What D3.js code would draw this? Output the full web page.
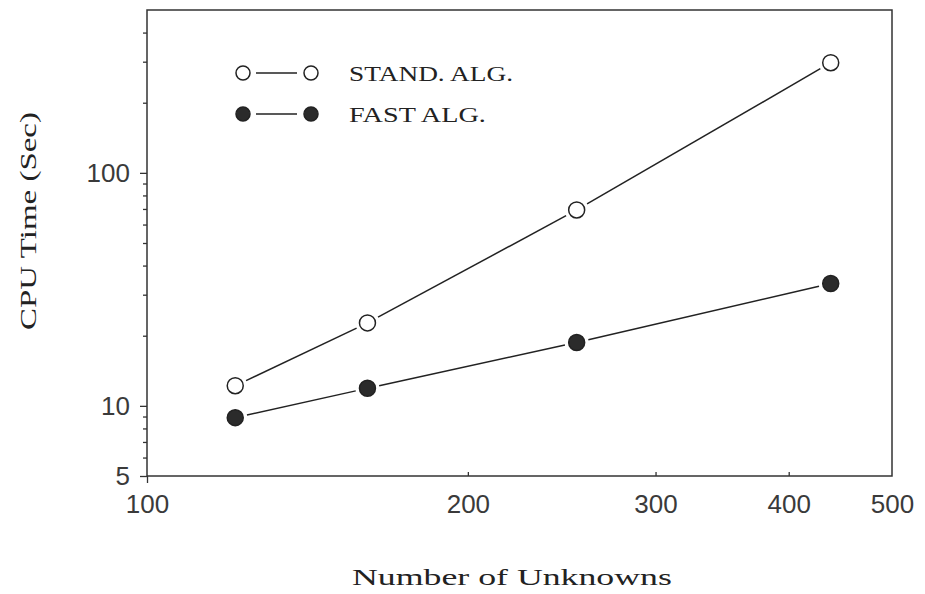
<!DOCTYPE html>
<html>
<head>
<meta charset="utf-8">
<script src="https://cdn.jsdelivr.net/npm/d3@7"></script>
<style>
  body { margin: 0; background: #fff; }
  svg { display: block; }
</style>
</head>
<body>
<div id="viz"></div>
<script>
// data
let unknowns = [121, 161, 253, 438];
let stand_alg = [12.2, 22.7, 69.3, 297];
let fast_alg = [8.9, 11.9, 18.7, 33.5];
let x_ticks = [100, 200, 300, 400, 500];
let y_labels = [5, 10, 100];
let y_minor = [6, 7, 8, 9, 20, 30, 40, 50, 60, 70, 80, 90, 200, 300, 400];
let series_names = ['STAND. ALG.', 'FAST ALG.'];

const width = 925, height = 594;
const serif = "'Liberation Serif', 'DejaVu Serif', serif";
const sans = "'Liberation Sans', 'DejaVu Sans', sans-serif";
const ink = '#222';

const svg = d3.select('#viz').append('svg')
    .attr('width', width)
    .attr('height', height);

const x = d3.scaleLog().domain([100, 500]).range([147, 892]);
const y = d3.scaleLog().domain([5, 500]).range([476, 10]);

// frame
svg.append('rect')
    .attr('x', x(100)).attr('y', y(500))
    .attr('width', x(500) - x(100)).attr('height', y(5) - y(500))
    .attr('fill', 'none').attr('stroke', '#333').attr('stroke-width', 1.5);

// y axis
svg.append('g')
    .attr('transform', 'translate(' + x(100) + ',0)')
    .call(d3.axisLeft(y).tickValues(y_labels).tickFormat(d3.format('d')).tickSize(7).tickPadding(10));
svg.append('g')
    .attr('transform', 'translate(' + x(100) + ',0)')
    .call(d3.axisLeft(y).tickValues(y_minor).tickFormat('').tickSize(4));

// x axis
svg.append('g')
    .attr('transform', 'translate(0,' + y(5) + ')')
    .call(d3.axisBottom(x).tickValues(x_ticks).tickSize(0).tickPadding(19).tickFormat(d3.format('d')));
svg.append('g')
    .attr('transform', 'translate(0,' + y(5) + ')')
    .call(d3.axisBottom(x).tickValues([100]).tickFormat('').tickSize(7));
svg.append('g')
    .attr('transform', 'translate(0,' + y(5) + ')')
    .call(d3.axisTop(x).tickValues([200, 300, 400]).tickFormat('').tickSize(4));

svg.selectAll('.domain').remove();
svg.selectAll('.tick line').attr('stroke', '#333').attr('stroke-width', 1.3);
svg.selectAll('.tick text')
    .attr('fill', '#3a3a3a')
    .style('font-family', sans)
    .style('font-size', '26px');

// serif text stretched sideways to the width it has in the picture
function wide_text(str, x0, y0, target, size, rotate) {
    let t = svg.append('text')
        .attr('x', 0).attr('y', 0)
        .style('font-family', serif).style('font-size', size + 'px')
        .attr('fill', ink)
        .text(str);
    let w = t.node().getComputedTextLength();
    let k = target / w;
    t.attr('transform', 'translate(' + x0 + ',' + y0 + ')' + (rotate ? ' rotate(-90)' : '') + ' scale(' + k + ',1)');
    return t;
}

// axis titles
wide_text('Number of Unknowns', 352, 585, 320, 24, false);
wide_text('CPU Time (Sec)', 36, 330, 218, 24, true);

// lines with a small gap round each marker
function draw_series(vals, filled, r) {
    let pts = unknowns.map((u, i) => [x(u), y(vals[i])]);
    let segs = d3.pairs(pts);
    let gap = r + 4;
    svg.append('g').selectAll('line')
        .data(segs)
        .join('line')
        .attr('x1', d => shorten(d[0], d[1], gap)[0])
        .attr('y1', d => shorten(d[0], d[1], gap)[1])
        .attr('x2', d => shorten(d[1], d[0], gap)[0])
        .attr('y2', d => shorten(d[1], d[0], gap)[1])
        .attr('stroke', ink).attr('stroke-width', 1.5);
    svg.append('g').selectAll('circle')
        .data(pts)
        .join('circle')
        .attr('cx', d => d[0]).attr('cy', d => d[1]).attr('r', r)
        .attr('fill', filled ? '#2b2b2b' : '#fff')
        .attr('stroke', ink).attr('stroke-width', 1.5);
}

function shorten(a, b, len) {
    let dx = b[0] - a[0], dy = b[1] - a[1];
    let d = Math.sqrt(dx * dx + dy * dy);
    return [a[0] + dx / d * len, a[1] + dy / d * len];
}

draw_series(stand_alg, false, 8);
draw_series(fast_alg, true, 8);

// legend
const legend = svg.append('g');
series_names.forEach(function (name, i) {
    let ly = 73 + i * 41;
    let filled = i === 1;
    legend.append('line')
        .attr('x1', 256).attr('x2', 297).attr('y1', ly).attr('y2', ly)
        .attr('stroke', ink).attr('stroke-width', 1.5);
    [243, 311].forEach(function (cx) {
        legend.append('circle')
            .attr('cx', cx).attr('cy', ly).attr('r', 7)
            .attr('fill', filled ? '#2b2b2b' : '#fff')
            .attr('stroke', ink).attr('stroke-width', 1.5);
    });
    wide_text(name, 349, ly + 8, filled ? 137 : 164, 21, false);
});
</script>
</body>
</html>
